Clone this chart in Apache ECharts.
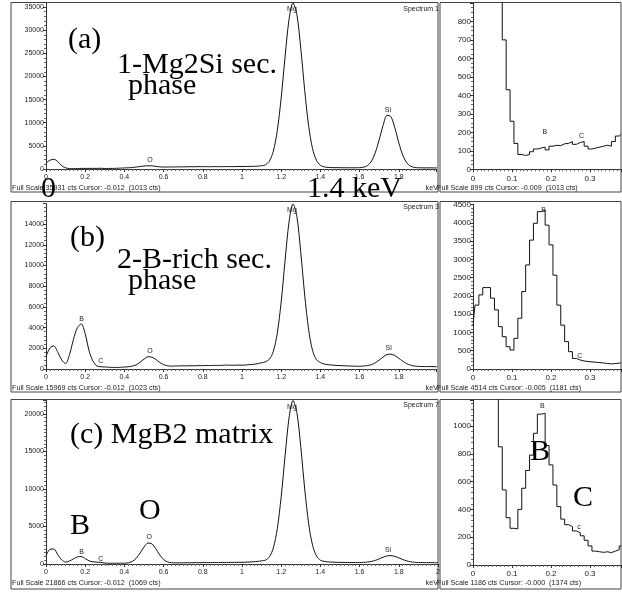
<!DOCTYPE html>
<html><head><meta charset="utf-8">
<script src="https://cdn.jsdelivr.net/npm/echarts@6/dist/echarts.min.js"></script>
<style>html,body{margin:0;padding:0;background:#fff}#c{width:622px;height:593px}</style>
</head><body><div id="c"></div>
<script>
// channel energies (keV)
const STEP_LEFT = 0.02, N_LEFT = 101;
const STEP_RIGHT = 0.01, N_RIGHT = 39;
const keVLeft = Array.from({length: N_LEFT}, (_, i) => +(i * STEP_LEFT).toFixed(2));
const keVRight = Array.from({length: N_RIGHT}, (_, i) => +(i * STEP_RIGHT).toFixed(2));

// (a) 1-Mg2Si secondary phase, 0-2 keV
const countsA = [1230,1900,2100,1600,700,260,80,80,110,120,
 125,128,140,135,150,110,120,130,150,190,
 230,270,320,420,530,640,700,680,570,470,
 420,430,450,440,470,460,480,500,480,520,
 500,510,490,520,510,500,530,520,510,540,
 530,550,560,580,620,700,900,1700,3850,8250,
 15350,24300,32300,35900,33450,26050,17000,9350,4400,1870,
 800,450,340,300,290,280,270,270,260,270,
 290,380,730,1640,3490,6300,9400,11600,11300,8900,
 5700,3020,1380,620,340,270,250,240,250,230,240];
// (a) zoom 0-0.38 keV
const countsAZoom = [1230,1500,1850,2050,2100,1900,1550,1050,700,430,
 260,140,80,75,80,95,110,115,120,105,
 125,130,128,138,140,150,135,145,150,125,
 110,115,120,125,130,125,150,180,190];

// (b) 2-B-rich secondary phase
const countsB = [1180,2030,2230,1620,885,520,1390,2850,3990,4350,
 3400,1750,750,290,220,195,175,150,150,165,
 190,220,280,400,650,950,1180,1150,930,640,
 420,310,280,290,300,310,300,320,310,330,
 320,340,330,350,340,360,380,370,360,380,
 370,390,420,450,520,600,700,950,1700,3450,
 6480,10500,14200,15950,14750,11250,7150,3800,1800,900,
 620,480,420,380,350,330,310,300,280,270,
 260,290,330,420,600,860,1150,1400,1430,1300,
 1040,760,520,370,290,250,240,230,240,220,230];
const countsBZoom = [1180,1750,2030,2230,2230,1940,1620,1160,885,610,
 520,840,1390,2120,2850,3530,3990,4310,4350,3940,
 3400,2570,1750,1200,750,475,290,245,220,205,
 195,185,175,165,150,140,150,160,165];

// (c) MgB2 matrix
const countsC = [1100,1950,2000,1250,540,264,400,680,947,1000,
 720,420,290,245,210,137,95,95,100,110,
 110,160,340,760,1460,2270,2790,2690,2040,1220,
 600,280,170,150,160,150,170,160,180,170,
 190,180,190,200,190,210,200,220,210,230,
 220,240,270,300,350,420,520,950,2150,4700,
 8970,14470,19480,21800,20200,15580,10000,5380,2500,1080,
 500,340,280,250,230,220,210,200,200,190,
 190,210,260,340,480,680,900,1080,1120,1010,
 820,600,420,300,230,200,190,180,190,170,180];
const countsCZoom = [1374,1700,1950,2050,2000,1700,1250,850,540,340,
 264,260,400,552,680,790,947,1085,1091,860,
 720,575,420,330,290,276,245,232,210,178,
 137,100,95,91,95,89,100,110,137];

// element markers [text, keV, counts]
const peaksA = [['Mg',1.255,34570],['Si',1.745,12750],['O',0.531,1840]];
const peaksAZoom = [['B',0.184,204],['C',0.278,180]];
const peaksB = [['Mg',1.255,15360],['B',0.182,4830],['C',0.279,770],['O',0.531,1770],['Si',1.748,2030]];
const peaksBZoom = [['B',0.181,4357],['C',0.274,356]];
const peaksC = [['Mg',1.255,20970],['B',0.182,1560],['C',0.279,630],['O',0.527,3640],['Si',1.745,1870]];
const peaksCZoom = [['B',0.178,1143],['c',0.272,275]];

// full-scale values
const fullScale = [35931, 899, 15969, 4514, 21866, 1186];
const yIntervals = [5000, 100, 2000, 500, 5000, 200];
const xMax = [1.99, 0.38, 1.99, 0.38, 2.0, 0.38];
const xIntervals = [0.2, 0.1, 0.2, 0.1, 0.2, 0.1];
const yMinorSplit = [5, 4, 5, 5, 10, 5];

const footers = [
 'Full Scale 35931 cts Cursor: -0.012  (1013 cts)',
 'Full Scale 899 cts Cursor: -0.009  (1013 cts)',
 'Full Scale 15969 cts Cursor: -0.012  (1023 cts)',
 'Full Scale 4514 cts Cursor: -0.005  (1181 cts)',
 'Full Scale 21866 cts Cursor: -0.012  (1069 cts)',
 'Full Scale 1186 cts Cursor: -0.000  (1374 cts)'
];
const spectrumNames = ['Spectrum 1', 'Spectrum 3', 'Spectrum 7'];

const panels = [
 {x: keVLeft, y: countsA, peaks: peaksA, zoom: false},
 {x: keVRight, y: countsAZoom, peaks: peaksAZoom, zoom: true},
 {x: keVLeft, y: countsB, peaks: peaksB, zoom: false},
 {x: keVRight, y: countsBZoom, peaks: peaksBZoom, zoom: true},
 {x: keVLeft, y: countsC, peaks: peaksC, zoom: false},
 {x: keVRight, y: countsCZoom, peaks: peaksCZoom, zoom: true}
];

const grids = [
 {left: 46, top: 2.7, width: 390, height: 166.3},
 {left: 473, top: 3.1, width: 148.2, height: 166.2},
 {left: 46, top: 203.7, width: 390, height: 165.3},
 {left: 473, top: 204.2, width: 148.2, height: 164.8},
 {left: 46, top: 400, width: 392, height: 164},
 {left: 473, top: 400.1, width: 148.2, height: 164.9}
];

const TXT = '#222';
const SANS = '"Liberation Sans", Arial, sans-serif';
const SERIF = '"Liberation Serif", "Times New Roman", serif';

const xAxes = panels.map((p, i) => ({
  gridIndex: i, type: 'value', min: 0, max: xMax[i], interval: xIntervals[i],
  axisLine: {show: true, lineStyle: {color: '#333', width: 1}},
  axisTick: {show: true, length: 3, lineStyle: {color: '#333'}},
  minorTick: {show: true, splitNumber: 10, length: 2, lineStyle: {color: '#666'}},
  splitLine: {show: false},
  axisLabel: {fontSize: p.zoom ? 8 : 7, color: TXT, fontFamily: SANS, margin: 5, showMaxLabel: i === 4,
    formatter: v => String(+v.toFixed(2))}
}));
const yAxes = panels.map((p, i) => ({
  gridIndex: i, type: 'value', min: 0, max: fullScale[i], interval: yIntervals[i],
  axisLine: {show: true, lineStyle: {color: '#333', width: 1}},
  axisTick: {show: true, length: 3, lineStyle: {color: '#333'}},
  minorTick: {show: true, splitNumber: yMinorSplit[i], length: 2, lineStyle: {color: '#666'}},
  splitLine: {show: false},
  axisLabel: {fontSize: p.zoom ? 8 : 7, color: TXT, fontFamily: SANS, margin: 2, showMaxLabel: false,
    formatter: v => String(Math.round(v))}
}));
const series = panels.map((p, i) => ({
  type: 'line', xAxisIndex: i, yAxisIndex: i,
  data: p.x.map((k, j) => [k, p.y[j]]),
  showSymbol: false, symbol: 'none',
  step: p.zoom ? 'middle' : false,
  smooth: p.zoom ? false : 0.3,
  lineStyle: {color: '#111', width: 1},
  clip: true,
  markPoint: {
    symbol: 'rect', symbolSize: 1, itemStyle: {color: 'rgba(0,0,0,0)'},
    label: {show: true, position: 'inside', formatter: '{b}', color: TXT, fontSize: 7, fontFamily: SANS},
    data: p.peaks.map(q => ({name: q[0], coord: [q[1], q[2]]}))
  }
}));

const frames = [
 [11, 2.5, 427, 189.5], [440, 2.5, 181, 189.5],
 [11, 201.5, 427, 190.5], [440, 201.5, 181, 190.5],
 [11, 399.5, 427, 189.5], [440, 399.5, 181, 189.5]
];
const footerY = [188, 188, 388, 388, 583, 583];
const graphics = [];
frames.forEach(f => graphics.push({type: 'rect', shape: {x: f[0], y: f[1], width: f[2], height: f[3]},
  style: {fill: 'none', stroke: '#444', lineWidth: 1}, silent: true}));
footers.forEach((t, i) => graphics.push({type: 'text', x: i % 2 ? 437 : 12, y: footerY[i],
  style: {text: t, fontSize: 7.2, fontFamily: SANS, fill: TXT, align: 'left', verticalAlign: 'middle'}}));
[0, 2, 4].forEach(i => graphics.push({type: 'text', x: 438, y: footerY[i],
  style: {text: 'keV', fontSize: 7.2, fontFamily: SANS, fill: TXT, align: 'right', verticalAlign: 'middle'}}));
const specY = [9, 207, 405.5];
spectrumNames.forEach((t, i) => graphics.push({type: 'text', x: 439, y: specY[i],
  style: {text: t, fontSize: 7, fontFamily: SANS, fill: TXT, align: 'right', verticalAlign: 'middle'}}));
const bigTexts = [
 ['(a)', 68, 40], ['1-Mg2Si sec.', 117, 65], ['phase', 128, 86.6],
 ['0', 41, 189], ['1.4 keV', 307, 189],
 ['(b)', 70, 238], ['2-B-rich sec.', 117, 260], ['phase', 128, 281.6],
 ['(c) MgB2 matrix', 70, 435], ['B', 70, 526.6], ['O', 139, 511.6],
 ['B', 530, 452], ['C', 573, 498]
];
bigTexts.forEach(b => graphics.push({type: 'text', x: b[1], y: b[2], z: 100,
  style: {text: b[0], fontSize: 30, fontFamily: SERIF, fill: '#000', align: 'left', verticalAlign: 'middle'}}));

const chart = echarts.init(document.getElementById('c'), null, {renderer: 'canvas'});
chart.setOption({
  animation: false,
  backgroundColor: '#fff',
  grid: grids,
  xAxis: xAxes,
  yAxis: yAxes,
  series: series,
  graphic: graphics
});
</script>
</body></html>
